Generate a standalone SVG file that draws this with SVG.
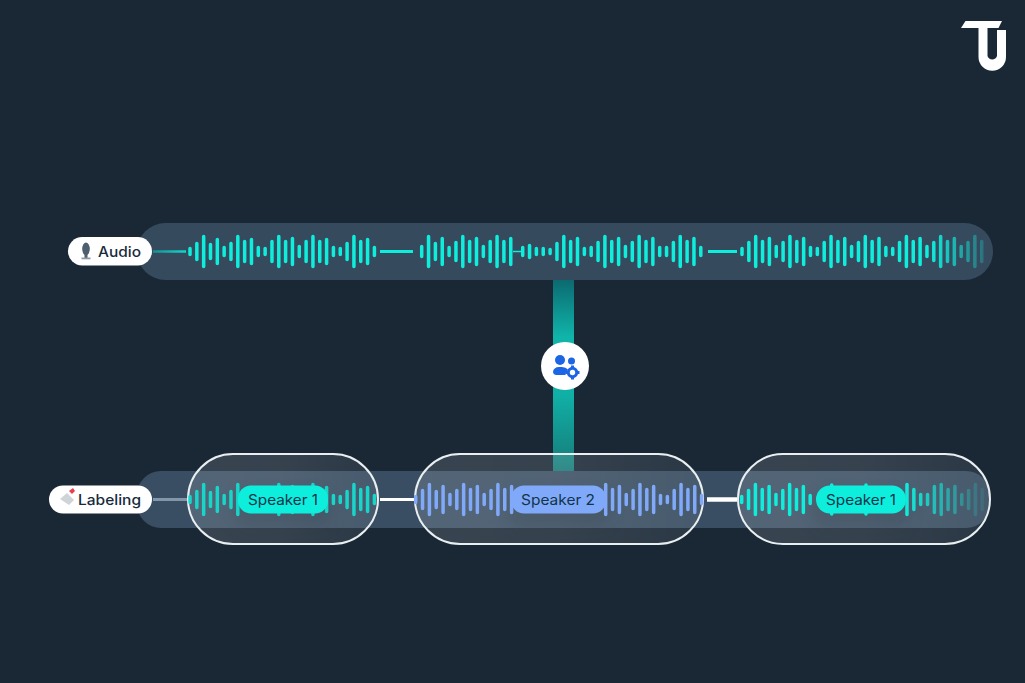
<svg xmlns="http://www.w3.org/2000/svg" width="1025" height="683" viewBox="0 0 1025 683">
<style>
.t{font-family:"Inter","Noto Sans","Liberation Sans",sans-serif;font-size:14.5px;font-weight:500;fill:#182a3c}
.sp{font-family:"Inter","Noto Sans","Liberation Sans",sans-serif;font-size:14px;font-weight:400;fill:#12344a}
.w{fill:none;stroke-width:3.5;stroke-linecap:round}
.cap{stroke:#e9eff1;stroke-width:2;fill:url(#capF)}
</style>
<defs>
<linearGradient id="fade1" gradientUnits="userSpaceOnUse" x1="930" y1="0" x2="988" y2="0"><stop offset="0" stop-color="#0eeedd"/><stop offset="1" stop-color="#0eeedd" stop-opacity=".18"/></linearGradient>
<linearGradient id="fade2" gradientUnits="userSpaceOnUse" x1="905" y1="0" x2="985" y2="0"><stop offset="0" stop-color="#0eeedd"/><stop offset="1" stop-color="#0eeedd" stop-opacity=".08"/></linearGradient>
<linearGradient id="vert" x1="0" y1="0" x2="0" y2="1"><stop offset="0" stop-color="#0b6a70"/><stop offset=".3" stop-color="#10b5aa"/><stop offset=".6" stop-color="#10b0a6"/><stop offset="1" stop-color="#177a78"/></linearGradient>
<linearGradient id="capF" x1="0" y1="0" x2="1" y2="0"><stop offset="0" stop-color="#fff" stop-opacity=".13"/><stop offset=".5" stop-color="#fff" stop-opacity=".12"/><stop offset="1" stop-color="#fff" stop-opacity=".07"/></linearGradient>
<linearGradient id="in1" gradientUnits="userSpaceOnUse" x1="153" y1="0" x2="186" y2="0"><stop offset="0" stop-color="#1a8f92"/><stop offset="1" stop-color="#10d8ca"/></linearGradient>
<filter id="soft" x="-30%" y="-60%" width="160%" height="220%"><feGaussianBlur stdDeviation="8"/></filter>
</defs>
<rect id="background" width="1025" height="683" fill="#1a2836"/>
<g id="logo" fill="#fff">
<path d="M961 28l4.500-7h36.500l-3.500 7z"/>
<path d="M978.500 27h9v29a5 5 0 0 0 9.500 0V30h9v27a13.700 13.700 0 0 1-27.500 0z"/>
</g>
<rect id="audio-band" x="137" y="223" width="856" height="57" rx="28.500" fill="#364a5e"/>
<rect id="labeling-band" x="137" y="471" width="853" height="57" rx="24" fill="#394e62"/>
<g id="connectors">
<rect x="553" y="280" width="21" height="191" fill="url(#vert)"/>
<path d="M153 251.500H186" stroke="url(#in1)" stroke-width="2.500" fill="none"/>
<path d="M380 251.500H413M708 251.500H737" stroke="#0eeedd" stroke-width="3" fill="none"/>
<path d="M513 251.500H522" stroke="#0eeedd" stroke-width="1.500" fill="none"/>
<path d="M153 499.500H187" stroke="#8397aa" stroke-width="3" fill="none"/>
<path d="M380 499.500H414" stroke="#fff" stroke-width="3" fill="none"/>
<path d="M707 499.500H737" stroke="#fff" stroke-width="4.500" fill="none"/>
</g>
<g id="audio-wave">
<path class="w" stroke="#0eeedd" d="M183.170 251.500m6.830-3v6m0-3m6.830-8v16m0-8m6.830-15v30m0-15m6.830-7v14m0-7m6.830-12v24m0-12m6.830-4v8m0-4m6.830-8v16m0-8m6.830-15v30m0-15m6.830-10v20m0-10m6.830-12v24m0-12m6.830-4v8m0-4m6.830-3v6m0-3m6.830-10v20m0-10m6.830-15v30m0-15m6.830-10v20m0-10m6.830-13v26m0-13m6.830-5v10m0-5m6.830-10v20m0-10m6.830-15v30m0-15m6.830-10v20m0-10m6.830-12v24m0-12m6.830-4v8m0-4m6.830-3v6m0-3m6.830-8v16m0-8m6.830-15v30m0-15m6.830-10v20m0-10m6.830-12v24m0-12m6.830-4v8m0-4"/>
<path class="w" stroke="#0eeedd" d="M414.850 251.500m6.850-5v10m0-5m6.850-15v30m0-15m6.850-8v16m0-8m6.850-13v26m0-13m6.850-4v8m0-4m6.850-9v18m0-9m6.850-15v30m0-15m6.850-10v20m0-10m6.850-13v26m0-13m6.850-5v10m0-5m6.850-10v20m0-10m6.850-15v30m0-15m6.850-10v20m0-10m6.850-13v26m0-13"/>
<path class="w" stroke="#0eeedd" d="M515.850 251.500m6.850-4v8m0-4m6.850-6v12m0-6m6.850-3v6m0-3m6.850-3v6m0-3m6.850-2v4m0-2m6.850-8v16m0-8m6.850-15v30m0-15m6.850-10v20m0-10m6.850-13v26m0-13m6.850-3v6m0-3m6.850-4v8m0-4m6.850-9v18m0-9m6.850-15v30m0-15m6.850-10v20m0-10m6.850-13v26m0-13m6.850-5v10m0-5m6.850-9v18m0-9m6.850-15v30m0-15m6.850-10v20m0-10m6.850-13v26m0-13m6.850-4v8m0-4m6.850-4v8m0-4m6.850-9v18m0-9m6.850-15v30m0-15m6.850-10v20m0-10m6.850-13v26m0-13m6.850-4v8m0-4"/>
<path class="w" stroke="url(#fade1)" d="M735.150 251.500m6.850-3v6m0-3m6.850-9v18m0-9m6.850-15v30m0-15m6.850-10v20m0-10m6.850-13v26m0-13m6.850-5v10m0-5m6.850-9v18m0-9m6.850-15v30m0-15m6.850-10v20m0-10m6.850-13v26m0-13m6.850-4v8m0-4m6.850-3v6m0-3m6.850-9v18m0-9m6.850-15v30m0-15m6.850-10v20m0-10m6.850-13v26m0-13m6.850-5v10m0-5m6.850-9v18m0-9m6.850-15v30m0-15m6.850-10v20m0-10m6.850-13v26m0-13m6.850-4v8m0-4m6.850-3v6m0-3m6.850-9v18m0-9m6.850-15v30m0-15m6.850-10v20m0-10m6.850-13v26m0-13m6.850-5v10m0-5m6.850-9v18m0-9m6.850-15v30m0-15m6.850-10v20m0-10m6.850-13v26m0-13m6.850-5v10m0-5m6.850-9v18m0-9m6.850-15v30m0-15m6.850-10v20m0-10"/>
</g>
<rect x="232" y="494" width="100" height="34" rx="14" fill="#16222e" opacity=".22" filter="url(#soft)"/>
<rect x="508" y="494" width="102" height="34" rx="14" fill="#16222e" opacity=".22" filter="url(#soft)"/>
<rect x="812" y="494" width="98" height="34" rx="14" fill="#16222e" opacity=".22" filter="url(#soft)"/>
<g id="node-speaker-1a">
<rect class="cap" x="188" y="454" width="190" height="90" rx="45"/>
<path class="w" stroke="#17d6c9" d="M183.170 499.500m6.830-3v6m0-3m6.830-8v16m0-8m6.830-15v30m0-15m6.830-7v14m0-7m6.830-12v24m0-12m6.830-4v8m0-4m6.830-8v16m0-8m6.830-15v30m0-15m6.830-10v20m0-10m6.830-12v24m0-12m6.830-4v8m0-4m6.830-3v6m0-3m6.830-10v20m0-10m6.830-15v30m0-15m6.830-10v20m0-10m6.830-13v26m0-13m6.830-5v10m0-5m6.830-10v20m0-10m6.830-15v30m0-15m6.830-10v20m0-10m6.830-12v24m0-12m6.830-4v8m0-4m6.830-3v6m0-3m6.830-8v16m0-8m6.830-15v30m0-15m6.830-10v20m0-10m6.830-12v24m0-12m6.830-4v8m0-4"/>
<rect x="238" y="485.500" width="90" height="28" rx="13" fill="#0eeedd"/>
<text class="sp" x="248" y="504.500" textLength="70" lengthAdjust="spacingAndGlyphs">Speaker 1</text>
</g>
<g id="node-speaker-2">
<rect class="cap" x="415" y="454" width="288" height="90" rx="45"/>
<path class="w" stroke="#80aaf9" d="M408.850 499.500m6.850-3v6m0-3m6.850-9v18m0-9m6.850-15v30m0-15m6.850-8v16m0-8m6.850-13v26m0-13m6.850-5v10m0-5m6.850-9v18m0-9m6.850-15v30m0-15m6.850-10v20m0-10m6.850-13v26m0-13m6.850-5v10m0-5m6.850-9v18m0-9m6.850-15v30m0-15m6.850-10v20m0-10m6.850-13v26m0-13"/>
<path class="w" stroke="#80aaf9" d="M598.850 499.500m6.850-15v30m0-15m6.850-10v20m0-10m6.850-13v26m0-13m6.850-5v10m0-5m6.850-9v18m0-9m6.850-15v30m0-15m6.850-10v20m0-10m6.850-13v26m0-13m6.850-4v8m0-4m6.850-3v6m0-3m6.850-9v18m0-9m6.850-15v30m0-15m6.850-10v20m0-10m6.850-13v26m0-13m6.850-4v8m0-4"/>
<rect x="511" y="485.500" width="95" height="28" rx="13" fill="#80aaf9"/>
<text class="sp" x="521" y="504.500" textLength="74" lengthAdjust="spacingAndGlyphs">Speaker 2</text>
</g>
<g id="node-speaker-1b">
<rect class="cap" x="738" y="454" width="252" height="90" rx="45"/>
<path class="w" stroke="#0eeedd" d="M734.850 499.500m6.850-3v6m0-3m6.850-9v18m0-9m6.850-15v30m0-15m6.850-10v20m0-10m6.850-13v26m0-13m6.850-5v10m0-5m6.850-9v18m0-9m6.850-15v30m0-15m6.850-10v20m0-10m6.850-13v26m0-13m6.850-4v8m0-4"/>
<path class="w" stroke="#0eeedd" d="M831.700 485v29M866 485v29"/>
<path class="w" stroke="url(#fade2)" d="M900.150 499.500m6.850-15v30m0-15m6.850-10v20m0-10m6.850-5v10m0-5m6.850-5v10m0-5m6.850-13v26m0-13m6.850-15v30m0-15m6.850-10v20m0-10m6.850-13v26m0-13m6.850-5v10m0-5m6.850-9v18m0-9m6.850-15v30m0-15m6.850-10v20m0-10"/>
<rect x="816" y="485.500" width="90" height="28" rx="14" fill="#0eeedd"/>
<text class="sp" x="826" y="504.500" textLength="70" lengthAdjust="spacingAndGlyphs">Speaker 1</text>
</g>
<g id="node-audio">
<rect x="68" y="237" width="84" height="28.500" rx="14.250" fill="#fff"/>
<g fill="#4d5e6e"><ellipse cx="86" cy="249" rx="3.800" ry="6.500"/><rect x="84.500" y="255" width="3" height="3"/><rect x="81.500" y="257.500" width="9" height="1.800" fill="#8c99a5"/></g>
<text class="t" x="98" y="256.500" textLength="43" lengthAdjust="spacingAndGlyphs">Audio</text>
</g>
<g id="node-labeling">
<rect x="49" y="485.500" width="103" height="28" rx="14" fill="#fff"/>
<path d="M60 499l7-6 7 7-5 5z" fill="#cfd4d8"/>
<path d="M69 491l4-3 2 3-3 3z" fill="#e8404f"/>
<text class="t" x="78" y="504.500" textLength="63" lengthAdjust="spacingAndGlyphs">Labeling</text>
</g>
<g id="node-process">
<circle cx="565" cy="366" r="24" fill="#fff"/>
<g fill="#1c66e6">
<circle cx="560" cy="360" r="5"/>
<circle cx="571.500" cy="361" r="3.500"/>
<path d="M553 372a6 5 0 0 1 6-5h3a8 6 0 0 1 6 2.500a7 7 0 0 0-2.500 5.500h-9a3.500 3.500 0 0 1-3.500-3z"/>
<circle cx="572.500" cy="372.500" r="4.200" fill="none" stroke="#1c66e6" stroke-width="3"/>
<path d="M571 365.500h3v3h-3zM571 376.500h3v3h-3zM565.500 371h3v3h-3zM576.500 371h3v3h-3z"/>
</g>
</g>
</svg>
